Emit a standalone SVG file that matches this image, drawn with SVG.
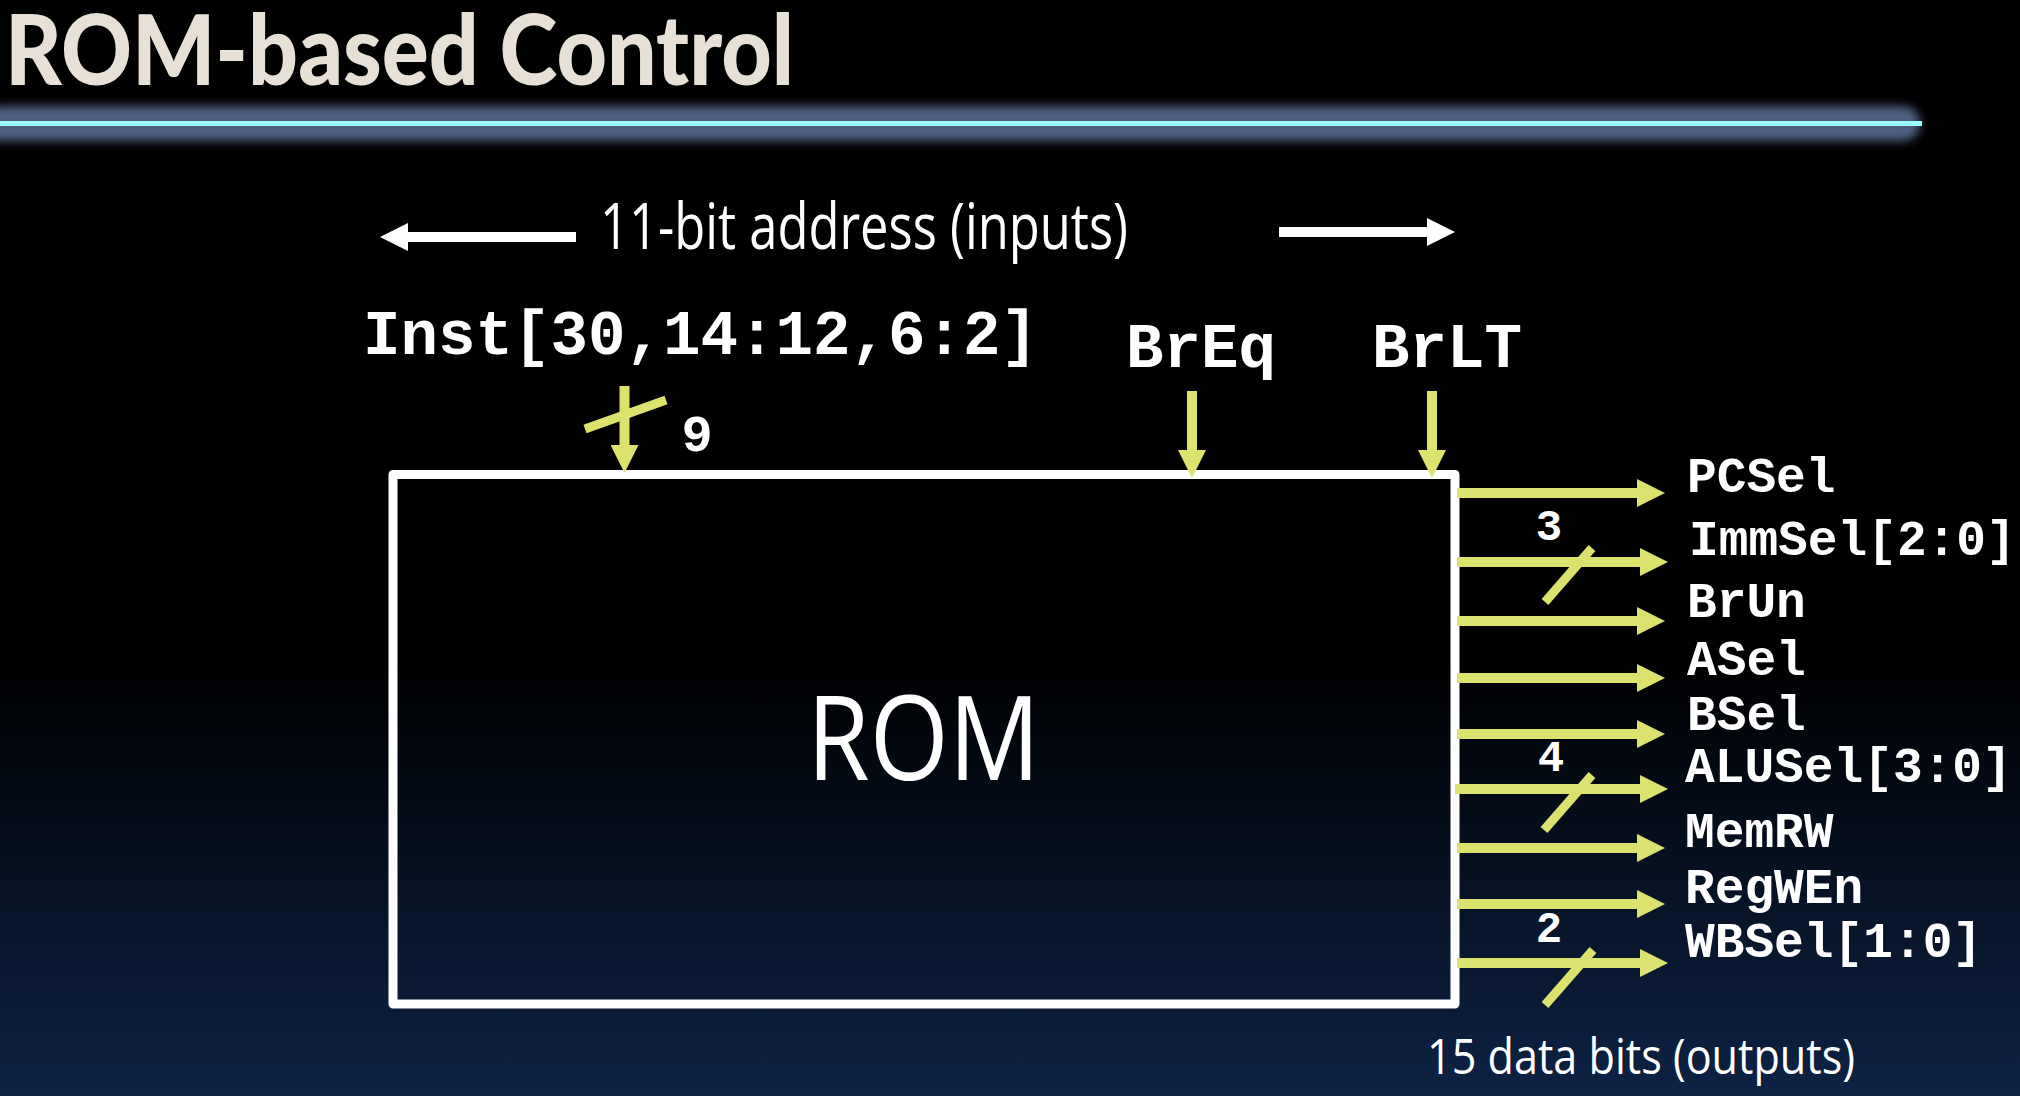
<svg xmlns="http://www.w3.org/2000/svg" width="2020" height="1096" viewBox="0 0 2020 1096">
<defs>
  <linearGradient id="bg" x1="0" y1="0" x2="0" y2="1">
    <stop offset="0" stop-color="#000000"/>
    <stop offset="0.6" stop-color="#000000"/>
    <stop offset="1" stop-color="#0d2245"/>
  </linearGradient>
  <filter id="glow" filterUnits="userSpaceOnUse" x="-50" y="60" width="2100" height="130">
    <feGaussianBlur stdDeviation="5"/>
  </filter>
  <marker id="ya" markerUnits="userSpaceOnUse" markerWidth="28" markerHeight="28" refX="2" refY="14" orient="auto">
    <path d="M0,0 L28,14 L0,28 z" fill="#dbe26d"/>
  </marker>
  <marker id="wa" markerUnits="userSpaceOnUse" markerWidth="28" markerHeight="28" refX="2" refY="14" orient="auto">
    <path d="M0,0 L28,14 L0,28 z" fill="#ffffff"/>
  </marker>
  <style>
    .mono { font-family: "Liberation Mono", "Courier New", monospace; font-weight: bold; fill: #ffffff; }
    .sans { font-family: "Open Sans", "Liberation Sans", sans-serif; fill: #ffffff; }
    .wire { stroke: #dbe26d; stroke-width: 10; fill: none; marker-end: url(#ya); }
    .slash { stroke: #dbe26d; stroke-width: 9; fill: none; }
    .warrow { stroke: #ffffff; stroke-width: 10; fill: none; marker-end: url(#wa); }
  </style>
</defs>
<rect x="0" y="0" width="2020" height="1096" fill="url(#bg)"/>

<g id="title">
  <text x="5" y="85" font-family="Lato, 'Open Sans', sans-serif" font-weight="900" font-size="98" fill="#e6e0d7" textLength="789" lengthAdjust="spacingAndGlyphs">ROM-based Control</text>
  <rect x="-20" y="106" width="1940" height="35" rx="17" fill="#4f5f82" filter="url(#glow)"/>
  <line x1="0" y1="123.5" x2="1922" y2="123.5" stroke="#99ffff" stroke-width="5"/>
</g>

<g id="address-label">
  <text class="sans" x="600" y="249" font-size="64" textLength="528" lengthAdjust="spacingAndGlyphs">11-bit address (inputs)</text>
</g>

<g id="rom">
  <rect x="393" y="474.5" width="1062" height="529.5" fill="none" stroke="#ffffff" stroke-width="9" stroke-linejoin="round"/>
  <text class="sans" x="807" y="780" font-size="118" textLength="233" lengthAdjust="spacingAndGlyphs">ROM</text>
</g>

<g id="inputs">
  <text class="mono" x="363" y="354" font-size="62.5">Inst[30,14:12,6:2]</text>
  <text class="mono" x="1126" y="367" font-size="62.5">BrEq</text>
  <text class="mono" x="1372" y="367" font-size="62.5">BrLT</text>
  <text class="mono" x="697" y="451" font-size="52" text-anchor="middle">9</text>
</g>

<g id="outputs">
  <text class="mono" x="1687" y="492" font-size="49.5">PCSel</text>
  <text class="mono" x="1689" y="555" font-size="49.5">ImmSel[2:0]</text>
  <text class="mono" x="1687" y="617" font-size="49.5">BrUn</text>
  <text class="mono" x="1687" y="675" font-size="49.5">ASel</text>
  <text class="mono" x="1687" y="730" font-size="49.5">BSel</text>
  <text class="mono" x="1685" y="782" font-size="49.5">ALUSel[3:0]</text>
  <text class="mono" x="1685" y="847" font-size="49.5">MemRW</text>
  <text class="mono" x="1685" y="903" font-size="49.5">RegWEn</text>
  <text class="mono" x="1685" y="957" font-size="49.5">WBSel[1:0]</text>
  <text class="mono" x="1549" y="540" font-size="44" text-anchor="middle">3</text>
  <text class="mono" x="1551" y="771" font-size="44" text-anchor="middle">4</text>
  <text class="mono" x="1549" y="942" font-size="44" text-anchor="middle">2</text>
  <text class="sans" x="1427" y="1074" font-size="50" textLength="428" lengthAdjust="spacingAndGlyphs">15 data bits (outputs)</text>
</g>

<g id="connectors">
  <line class="warrow" x1="576" y1="237" x2="406" y2="237"/>
  <line class="warrow" x1="1279" y1="232" x2="1429" y2="232"/>

  <line class="wire" x1="624.5" y1="386" x2="624.5" y2="447"/>
  <line class="slash" x1="585" y1="429" x2="666" y2="400"/>
  <line class="wire" x1="1192" y1="391" x2="1192" y2="452"/>
  <line class="wire" x1="1432" y1="391" x2="1432" y2="452"/>

  <line class="wire" x1="1457" y1="493" x2="1639" y2="493"/>
  <line class="wire" x1="1457" y1="562" x2="1642" y2="562"/>
  <line class="slash" x1="1545" y1="602" x2="1592" y2="548"/>
  <line class="wire" x1="1457" y1="621" x2="1639" y2="621"/>
  <line class="wire" x1="1457" y1="678" x2="1639" y2="678"/>
  <line class="wire" x1="1457" y1="734" x2="1639" y2="734"/>
  <line class="wire" x1="1455" y1="789" x2="1642" y2="789"/>
  <line class="slash" x1="1544" y1="830" x2="1592" y2="775"/>
  <line class="wire" x1="1457" y1="848" x2="1639" y2="848"/>
  <line class="wire" x1="1457" y1="904" x2="1639" y2="904"/>
  <line class="wire" x1="1457" y1="963" x2="1642" y2="963"/>
  <line class="slash" x1="1545" y1="1005" x2="1593" y2="950"/>
</g>
</svg>
